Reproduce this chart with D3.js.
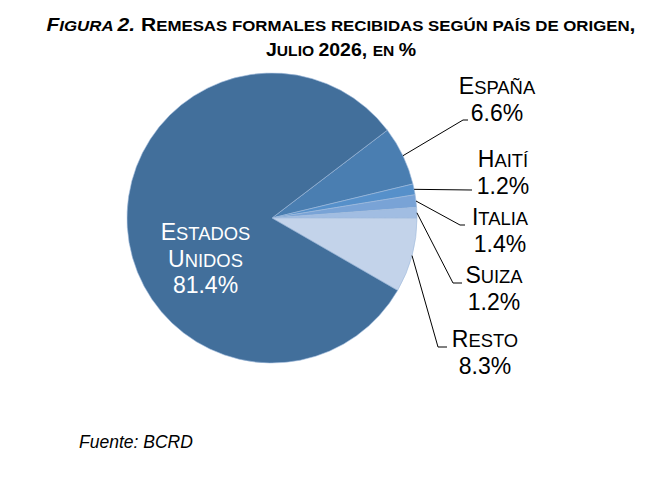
<!DOCTYPE html>
<html>
<head>
<meta charset="utf-8">
<script src="https://cdn.jsdelivr.net/npm/d3@7"></script>
<style>
  body { margin: 0; background: #fff; }
  svg { font-family: "Liberation Sans", Arial, sans-serif; }
</style>
</head>
<body>
<svg id="pie-chart" width="666" height="481"></svg>
<script>
// data
var countries = ["España", "Haití", "Italia", "Suiza", "Resto", "Estados Unidos"];
var shares = [6.6, 1.2, 1.4, 1.2, 8.3, 81.4];
var valueLabels = ["6.6%", "1.2%", "1.4%", "1.2%", "8.3%", "81.4%"];

var colors = ["#4a7eb1", "#5690ca", "#79a3d6", "#a1bde2", "#c3d3ea", "#426f9b"];

// label placement (center x, first baseline, leader end)
var labelPos = [
  {x: 497, y: 94, ex: 463, ey: 120, tail: 5},
  {x: 503, y: 167, ex: 472, ey: 190, tail: 0},
  {x: 500, y: 225, ex: 460, ey: 225, tail: 5},
  {x: 494, y: 283, ex: 453, ey: 283, tail: 9},
  {x: 485, y: 347, ex: 438, ey: 347, tail: 9},
  {x: 205.5, y: 240, inside: true}
];

var svg = d3.select("#pie-chart"),
    cx = 272, cy = 218, radius = 145;

// writes str into a text element with small caps (lowercase -> smaller uppercase)
function smallCaps(parent, str, size, ratio, italic) {
  var runs = [];
  for (var i = 0; i < str.length; i++) {
    var ch = str[i];
    var small = ch !== ch.toUpperCase() || (ch === " " && runs.length && runs[runs.length - 1].small);
    if (runs.length && runs[runs.length - 1].small === small) runs[runs.length - 1].t += ch;
    else runs.push({t: ch, small: small});
  }
  runs.forEach(function(r) {
    var ts = parent.append("tspan")
      .attr("font-size", (r.small ? size * ratio : size) + "px")
      .text(r.small ? r.t.toUpperCase() : r.t);
    if (italic) ts.attr("font-style", "italic");
  });
}

// title
var t1 = svg.append("text")
  .attr("x", 341).attr("y", 31)
  .attr("text-anchor", "middle")
  .attr("font-weight", "bold")
  .attr("textLength", 589)
  .attr("lengthAdjust", "spacingAndGlyphs")
  .attr("fill", "#000");
smallCaps(t1, "Figura 2.", 18, 0.8, true);
smallCaps(t1, " Remesas formales recibidas según país de origen,", 18, 0.8, false);

var t2 = svg.append("text")
  .attr("x", 341).attr("y", 56)
  .attr("text-anchor", "middle")
  .attr("font-weight", "bold")
  .attr("textLength", 150)
  .attr("lengthAdjust", "spacingAndGlyphs")
  .attr("fill", "#000");
smallCaps(t2, "Julio 2026, en %", 18, 0.8, false);

var a0 = 52.7 * Math.PI / 180;

var pie = d3.pie()
  .sort(null)
  .startAngle(a0)
  .endAngle(a0 + 2 * Math.PI)
  .value(function(d) { return d; });

var path = d3.arc()
  .outerRadius(radius)
  .innerRadius(0);

var edge = d3.arc()
  .outerRadius(radius)
  .innerRadius(radius);

var g = svg.append("g").attr("transform", "translate(" + cx + "," + cy + ")");

var arcs = pie(shares);

g.selectAll(".arc")
  .data(arcs)
  .enter().append("path")
  .attr("class", "arc")
  .attr("d", path)
  .attr("fill", function(d, i) { return colors[i]; })
  .attr("stroke", "#9fbbdc")
  .attr("stroke-width", 0.6);

// leader lines
arcs.forEach(function(d, i) {
  var p = labelPos[i];
  if (p.inside) return;
  var s = edge.centroid(d);
  var pts = [[cx + s[0], cy + s[1]], [p.ex, p.ey], [p.ex + p.tail, p.ey]];
  svg.append("path")
    .attr("d", d3.line()(pts))
    .attr("fill", "none")
    .attr("stroke", "#000")
    .attr("stroke-width", 1);
});

// labels
arcs.forEach(function(d, i) {
  var p = labelPos[i];
  var fill = p.inside ? "#fff" : "#000";
  var words = countries[i].split(" ");
  var lines = words.concat([valueLabels[i]]);
  lines.forEach(function(line, k) {
    var t = svg.append("text")
      .attr("x", p.x)
      .attr("y", p.y + k * 26.5)
      .attr("text-anchor", "middle")
      .attr("fill", fill);
    smallCaps(t, line, 23, 0.8, false);
  });
});

// source
svg.append("text")
  .attr("x", 79).attr("y", 448)
  .attr("font-size", "17.5px")
  .attr("font-style", "italic")
  .text("Fuente: BCRD");
</script>
</body>
</html>
